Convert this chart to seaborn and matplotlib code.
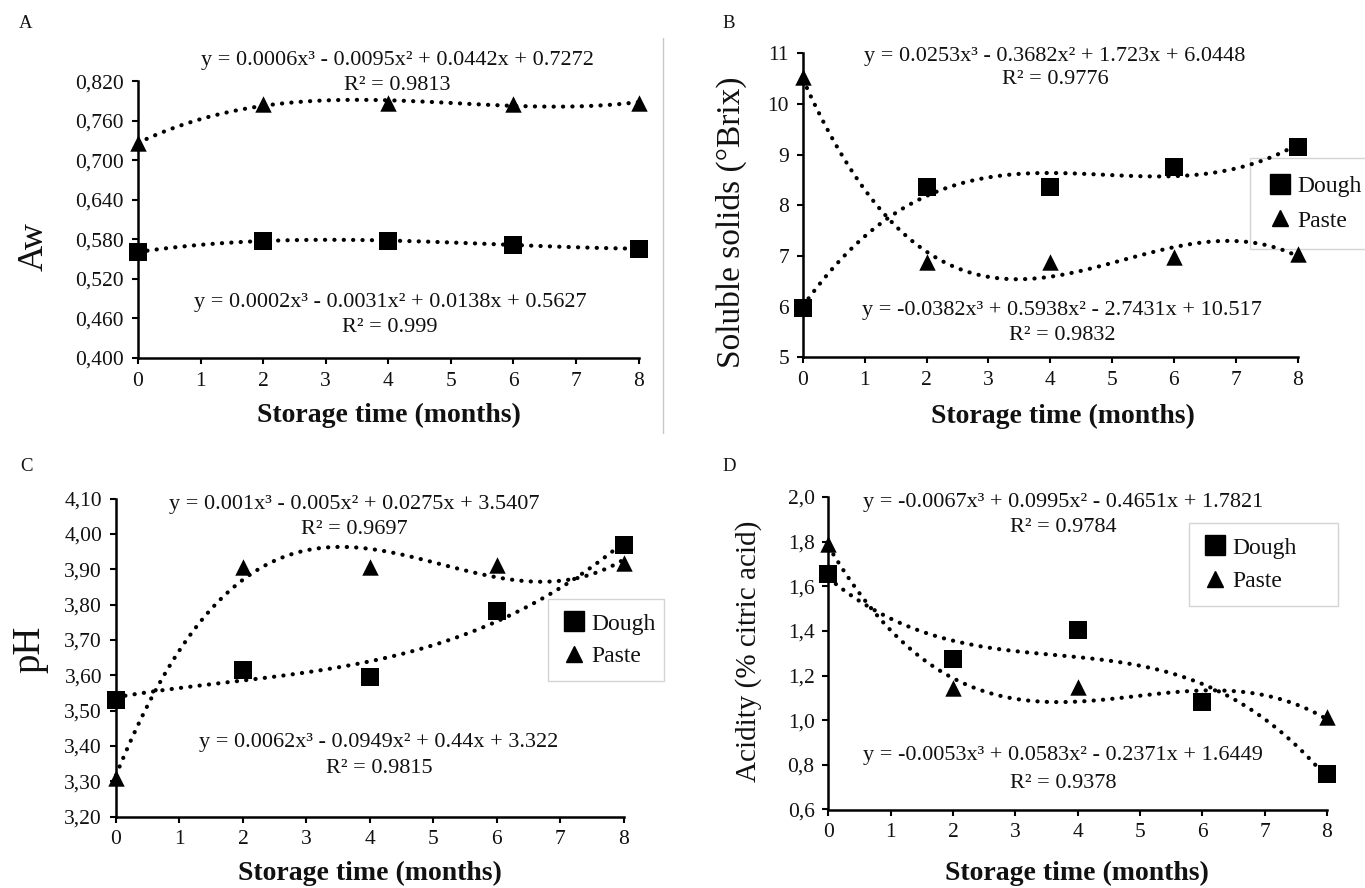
import numpy as np
import pandas as pd
import seaborn as sns
import matplotlib
matplotlib.use("Agg")
import matplotlib.pyplot as plt
from matplotlib.lines import Line2D

# ---------------- data ----------------
months = [0, 2, 4, 6, 8]

aw_dough = [0.561, 0.578, 0.578, 0.572, 0.566]
aw_paste = [0.726, 0.786, 0.787, 0.786, 0.788]

ss_dough = [5.97, 8.37, 8.37, 8.76, 9.16]
ss_paste = [10.54, 6.89, 6.89, 6.98, 7.05]

ph_dough = [3.530, 3.615, 3.594, 3.782, 3.968]
ph_paste = [3.308, 3.905, 3.905, 3.912, 3.918]

ac_dough = [1.657, 1.276, 1.403, 1.082, 0.761]
ac_paste = [1.790, 1.145, 1.148, 1.090, 1.015]

x_ticks = [0, 1, 2, 3, 4, 5, 6, 7, 8]
aw_ticks = [0.400, 0.460, 0.520, 0.580, 0.640, 0.700, 0.760, 0.820]
aw_labels = ["0,400", "0,460", "0,520", "0,580", "0,640", "0,700", "0,760", "0,820"]
ss_ticks = [5, 6, 7, 8, 9, 10, 11]
ss_labels = ["5", "6", "7", "8", "9", "10", "11"]
ph_ticks = [3.20, 3.30, 3.40, 3.50, 3.60, 3.70, 3.80, 3.90, 4.00, 4.10]
ph_labels = ["3,20", "3,30", "3,40", "3,50", "3,60", "3,70", "3,80", "3,90", "4,00", "4,10"]
ac_ticks = [0.6, 0.8, 1.0, 1.2, 1.4, 1.6, 1.8, 2.0]
ac_labels = ["0,6", "0,8", "1,0", "1,2", "1,4", "1,6", "1,8", "2,0"]

series_names = ["Dough", "Paste"]

eq_A = ["y = 0.0006x³ - 0.0095x² + 0.0442x + 0.7272", "R² = 0.9813",
        "y = 0.0002x³ - 0.0031x² + 0.0138x + 0.5627", "R² = 0.999"]
eq_B = ["y = 0.0253x³ - 0.3682x² + 1.723x + 6.0448", "R² = 0.9776",
        "y = -0.0382x³ + 0.5938x² - 2.7431x + 10.517", "R² = 0.9832"]
eq_C = ["y = 0.001x³ - 0.005x² + 0.0275x + 3.5407", "R² = 0.9697",
        "y = 0.0062x³ - 0.0949x² + 0.44x + 3.322", "R² = 0.9815"]
eq_D = ["y = -0.0067x³ + 0.0995x² - 0.4651x + 1.7821", "R² = 0.9784",
        "y = -0.0053x³ + 0.0583x² - 0.2371x + 1.6449", "R² = 0.9378"]

# ---------------- style ----------------
sns.set_style("ticks")
plt.rcParams["font.family"] = ["Liberation Serif", "DejaVu Serif"]
plt.rcParams["axes.linewidth"] = 1.8
plt.rcParams["xtick.major.width"] = 1.5
plt.rcParams["ytick.major.width"] = 1.5
plt.rcParams["xtick.major.size"] = 4
plt.rcParams["ytick.major.size"] = 4
plt.rcParams["xtick.color"] = "black"
plt.rcParams["ytick.color"] = "black"
plt.rcParams["axes.edgecolor"] = "black"
plt.rcParams["text.color"] = "#111111"

W, H = 1365, 888
fig = plt.figure(figsize=(W / 100, H / 100), dpi=100)


def fx(px):
    return px / W


def fy(py):
    return 1 - py / H


def make_ax(x0, x1, ytop, ybot):
    return fig.add_axes([fx(x0), fy(ybot), fx(x1) - fx(x0), (ybot - ytop) / H])


DOT = (0, (0.05, 2.2))
SQ_S = 185
TRI_S = 140


def draw_series(ax, x, y, marker, size, z):
    df = pd.DataFrame({"months": x, "value": y})
    sns.regplot(data=df, x="months", y="value", order=3, ci=None, ax=ax,
                color="black", marker=marker, truncate=True,
                scatter_kws={"s": size, "clip_on": False, "zorder": z,
                             "alpha": 1, "linewidths": 0},
                line_kws={"linestyle": DOT, "linewidth": 3.0,
                          "dash_capstyle": "round", "zorder": 2,
                          "clip_on": False})


def style_ax(ax, yticks, ylabels):
    ax.set_xlim(0, 8)
    ax.set_ylim(yticks[0], yticks[-1])
    ax.set_xticks(x_ticks)
    ax.set_xticklabels([str(t) for t in x_ticks])
    ax.set_yticks(yticks)
    ax.set_yticklabels(ylabels)
    ax.tick_params(axis="both", labelsize=15.5, pad=6, labelcolor="#111111")
    ax.set_xlabel("")
    ax.set_ylabel("")
    sns.despine(ax=ax)
    ax.patch.set_alpha(0)


def legend(ax, x0, ytop, w, h, pad=0.75, spacing=0.5):
    handles = [Line2D([], [], marker="s", color="black", linestyle="none", markersize=15),
               Line2D([], [], marker="^", color="black", linestyle="none", markersize=11)]
    leg = ax.legend(handles, series_names, loc="upper left",
                    bbox_to_anchor=(fx(x0), fy(ytop) - h / H, w / W, h / H),
                    bbox_transform=fig.transFigure, mode="expand",
                    frameon=True, fancybox=False, framealpha=1,
                    edgecolor="#d4d4d4", fontsize=17, handlelength=1.0,
                    handletextpad=0.25, borderpad=pad, labelspacing=spacing,
                    borderaxespad=0)
    leg.get_frame().set_linewidth(1.0)
    leg.set_zorder(1)


def ftext(px, py, s, size=16, **kw):
    fig.text(fx(px), fy(py), s, ha="center", va="center", fontsize=size, **kw)


# ---------------- Panel A ----------------
axA = make_ax(138, 638.5, 81.5, 358)
draw_series(axA, months, aw_paste, "^", TRI_S, 3)
draw_series(axA, months, aw_dough, "s", SQ_S, 4)
style_ax(axA, aw_ticks, aw_labels)
ftext(397, 61, eq_A[0])
ftext(397, 86, eq_A[1])
ftext(390, 303, eq_A[2])
ftext(390, 328, eq_A[3])
ftext(389, 415, "Storage time (months)", size=20, fontweight="bold")
ftext(34, 247, "Aw", size=26, rotation=90)
ftext(26, 24, "A", size=13.5)
fig.add_artist(Line2D([fx(663), fx(663)], [fy(38), fy(433)], color="#c8c8c8", lw=1.0))

# ---------------- Panel B ----------------
axB = make_ax(803, 1297.5, 53.5, 357.5)
draw_series(axB, months, ss_paste, "^", TRI_S, 3)
draw_series(axB, months, ss_dough, "s", SQ_S, 4)
style_ax(axB, ss_ticks, ss_labels)
legend(axB, 1250, 158, 125, 87, pad=0.75, spacing=0.55)
ftext(1055, 57, eq_B[0])
ftext(1055, 80, eq_B[1])
ftext(1062, 310, eq_B[2])
ftext(1062, 335, eq_B[3])
ftext(1063, 416, "Storage time (months)", size=20, fontweight="bold")
ftext(731, 222, "Soluble solids (°Brix)", size=24, rotation=90)
ftext(729, 24, "B", size=13.5)

# ---------------- Panel C ----------------
axC = make_ax(116, 623.5, 498.5, 816.5)
draw_series(axC, months, ph_paste, "^", TRI_S, 3)
draw_series(axC, months, ph_dough, "s", SQ_S, 4)
style_ax(axC, ph_ticks, ph_labels)
legend(axC, 548, 599, 116, 82, pad=0.6, spacing=0.45)
ftext(354, 505, eq_C[0])
ftext(354, 529, eq_C[1])
ftext(379, 743, eq_C[2])
ftext(379, 768, eq_C[3])
ftext(370, 873, "Storage time (months)", size=20, fontweight="bold")
ftext(30, 649, "pH", size=28, rotation=90)
ftext(26, 466, "C", size=13.5)

# ---------------- Panel D ----------------
axD = make_ax(828.5, 1327, 497, 809.5)
draw_series(axD, months, ac_paste, "^", TRI_S, 3)
draw_series(axD, months, ac_dough, "s", SQ_S, 4)
style_ax(axD, ac_ticks, ac_labels)
legend(axD, 1189, 523, 149, 81, pad=0.6, spacing=0.5)
ftext(1063, 502, eq_D[0])
ftext(1063, 527, eq_D[1])
ftext(1063, 755, eq_D[2])
ftext(1063, 783, eq_D[3])
ftext(1077, 873, "Storage time (months)", size=20, fontweight="bold")
ftext(749, 651, "Acidity (% citric acid)", size=21, rotation=90)
ftext(729, 466, "D", size=13.5)

fig.savefig("out.png", dpi=100, facecolor="white")
